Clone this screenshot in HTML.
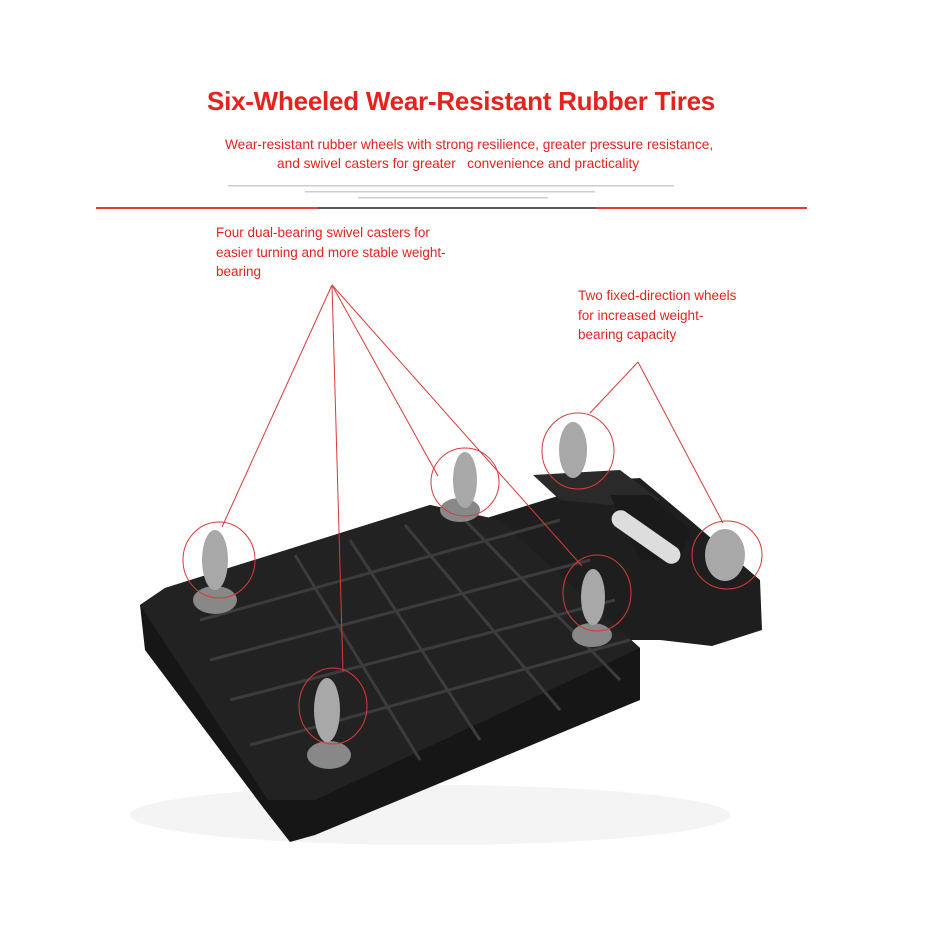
<!DOCTYPE html>
<html><head><meta charset="utf-8"><style>
html,body{margin:0;padding:0;background:#fff;}
body{width:932px;height:932px;position:relative;overflow:hidden;font-family:"Liberation Sans",sans-serif;}
.t{position:absolute;color:#e4231f;white-space:nowrap;}
</style></head><body>
<div class="t" style="left:207px;top:86px;font-size:26px;font-weight:bold;letter-spacing:-0.25px;">Six-Wheeled Wear-Resistant Rubber Tires</div>
<div class="t" style="left:225px;top:137px;font-size:13.7px;">Wear-resistant rubber wheels with strong resilience, greater pressure resistance,</div>
<div class="t" style="left:277px;top:156px;font-size:13.7px;">and swivel casters for greater &nbsp; convenience and practicality</div>
<div class="t" style="left:216px;top:223px;font-size:13.5px;line-height:19.5px;white-space:normal;width:250px;">Four dual-bearing swivel casters for easier turning and more stable weight-bearing</div>
<div class="t" style="left:578px;top:286px;font-size:13.5px;line-height:19.5px;white-space:normal;width:166px;">Two fixed-direction wheels for increased weight-bearing capacity</div>
<svg width="932" height="932" style="position:absolute;left:0;top:0">
<g fill="#ccc"><rect x="228" y="185" width="446" height="1.5"/><rect x="305" y="191" width="290" height="1.5"/><rect x="358" y="197" width="190" height="1.5"/></g>
<rect x="96" y="207" width="711" height="2" fill="#e23a36"/>
<rect x="318" y="207" width="278" height="2" fill="#555"/>
<ellipse cx="430" cy="815" rx="300" ry="30" fill="#f4f4f4"/>
<polygon points="480,520 610,480 640,478 690,520 760,580 762,630 712,646 660,640 610,640 560,600" fill="#1e1e1e"/>
<polygon points="533,475 620,470 660,500 610,505 560,500" fill="#2a2a2a"/>
<polygon points="610,495 650,495 690,530 680,560 640,560" fill="#1a1a1a"/>
<rect x="606" y="528" width="80" height="18" rx="9" fill="#ddd" transform="rotate(35 646 537)"/>
<polygon points="140,605 165,588 430,505 500,520 640,648 640,700 315,835 290,842 265,810 145,650" fill="#161616"/>
<polygon points="140,605 165,588 430,505 500,520 640,648 315,800 268,800" fill="#222"/>
<g stroke="#3c3c3c" stroke-width="3" fill="none">
<line x1="200" y1="620" x2="560" y2="520"/><line x1="210" y1="660" x2="590" y2="560"/><line x1="230" y1="700" x2="615" y2="600"/><line x1="250" y1="745" x2="630" y2="640"/>
<line x1="295" y1="555" x2="420" y2="760"/><line x1="350" y1="540" x2="480" y2="740"/><line x1="405" y1="525" x2="560" y2="710"/><line x1="460" y1="515" x2="620" y2="680"/>
</g>
<g>
<ellipse cx="215" cy="600" rx="22" ry="14" fill="#888"/><ellipse cx="215" cy="560" rx="13" ry="30" fill="#a8a8a8"/>
<ellipse cx="329" cy="755" rx="22" ry="14" fill="#888"/><ellipse cx="327" cy="710" rx="13" ry="32" fill="#a8a8a8"/>
<ellipse cx="460" cy="510" rx="20" ry="12" fill="#888"/><ellipse cx="465" cy="480" rx="12" ry="28" fill="#a8a8a8"/>
<ellipse cx="592" cy="635" rx="20" ry="12" fill="#888"/><ellipse cx="593" cy="597" rx="12" ry="28" fill="#a8a8a8"/>
<ellipse cx="573" cy="450" rx="14" ry="28" fill="#a8a8a8"/>
<ellipse cx="725" cy="555" rx="20" ry="26" fill="#a8a8a8"/>
</g>
<g stroke="#d83a3a" stroke-width="1" fill="none">
<line x1="332" y1="285" x2="222" y2="527"/><line x1="332" y1="285" x2="343" y2="672"/>
<line x1="332" y1="285" x2="438" y2="476"/><line x1="332" y1="285" x2="582" y2="566"/>
<line x1="638" y1="362" x2="590" y2="413"/><line x1="638" y1="362" x2="723" y2="523"/>
<ellipse cx="219" cy="560" rx="36" ry="38"/><ellipse cx="333" cy="706" rx="34" ry="38"/>
<ellipse cx="465" cy="482" rx="34" ry="34"/><ellipse cx="597" cy="593" rx="34" ry="38"/>
<ellipse cx="578" cy="451" rx="36" ry="38"/><ellipse cx="727" cy="555" rx="35" ry="34"/>
</g>
</svg>
</body></html>
